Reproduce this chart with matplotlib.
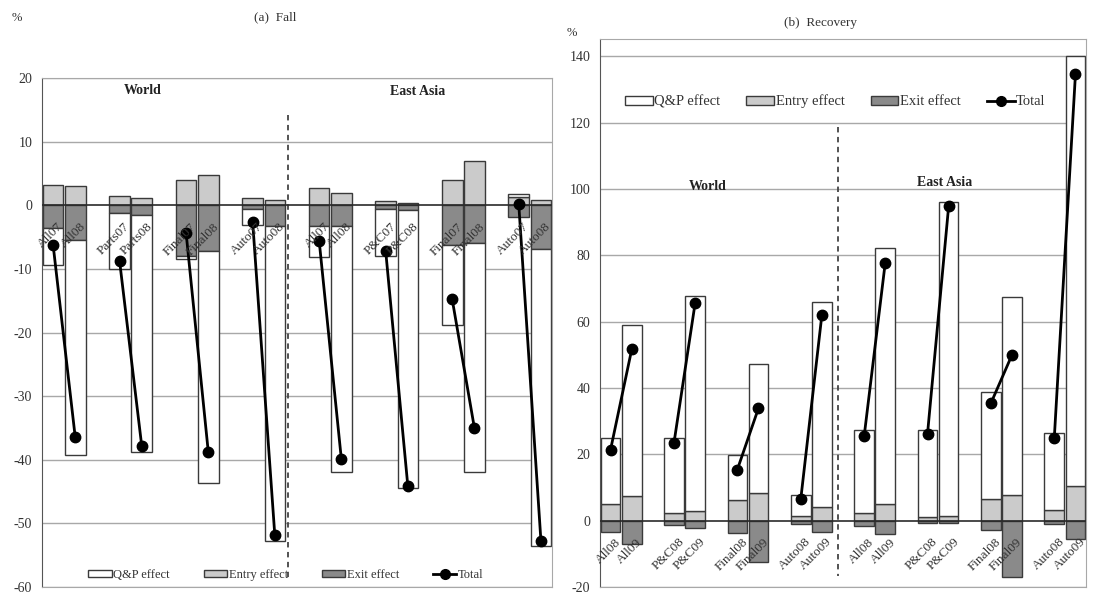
import numpy as np
import matplotlib
matplotlib.use('Agg')
import matplotlib.pyplot as plt
from matplotlib.patches import Patch
from matplotlib.lines import Line2D

plt.rcParams['font.family'] = ['Liberation Serif', 'DejaVu Serif']

# ---------- (a) Fall ----------
fall_labels = ['All07', 'All08', 'Parts07', 'Parts08', 'Final07', 'Final08', 'Auto07', 'Auto08',
               'All07', 'All08', 'P&C07', 'P&C08', 'Final07', 'Final08', 'Auto07', 'Auto08']
fall_qp = [-5.8, -33.9, -8.8, -37.2, -0.5, -36.5, -2.5, -49.5,
           -4.8, -38.7, -7.3, -43.7, -12.5, -36.0, 0.5, -46.7]
fall_entry = [3.2, 3.0, 1.4, 1.1, 4.0, 4.8, 1.1, 0.8,
              2.7, 2.0, 0.7, 0.3, 4.0, 7.0, 1.3, 0.8]
fall_exit = [-3.6, -5.4, -1.2, -1.6, -8.0, -7.2, -0.6, -3.2,
             -3.3, -3.3, -0.6, -0.7, -6.3, -6.0, -1.8, -6.9]
fall_total = [-6.2, -36.5, -8.8, -37.9, -4.4, -38.8, -2.6, -51.9,
              -5.6, -39.9, -7.2, -44.2, -14.8, -35.0, 0.2, -52.7]

# ---------- (b) Recovery ----------
rec_labels = ['All08', 'All09', 'P&C08', 'P&C09', 'Final08', 'Final09', 'Auto08', 'Auto09',
              'All08', 'All09', 'P&C08', 'P&C09', 'Final08', 'Final09', 'Auto08', 'Auto09']
rec_qp = [20.0, 51.6, 22.8, 64.7, 13.7, 38.8, 6.2, 61.7,
          25.2, 77.3, 26.0, 94.5, 32.3, 59.8, 23.3, 129.7]
rec_entry = [5.0, 7.4, 2.2, 3.0, 6.2, 8.4, 1.5, 4.2,
             2.2, 4.9, 1.2, 1.5, 6.4, 7.6, 3.1, 10.5]
rec_exit = [-3.3, -7.1, -1.3, -2.2, -3.8, -12.5, -1.0, -3.5,
            -1.5, -4.0, -0.8, -0.6, -2.8, -17.0, -1.1, -5.5]
rec_total = [21.4, 51.6, 23.4, 65.5, 15.4, 33.9, 6.4, 62.0,
             25.4, 77.8, 26.2, 94.8, 35.4, 50.0, 25.0, 134.5]

legend_names = ['Q&P effect', 'Entry effect', 'Exit effect', 'Total']

c_entry = '#cbcbcb'
c_exit = '#8a8a8a'
c_edge = '#3a3a3a'
c_grid = '#a8a8a8'

# two bars per group, blank slot between groups
pos = np.array([3 * i + j for i in range(8) for j in range(2)])


def draw_panel(ax, labels, qp, entry, ex, total, ylim, yticks, divider, div_y, regions,
               legend_xy, legend_fs, legend_sp):
    qp = np.array(qp)
    entry = np.array(entry)
    ex = np.array(ex)
    w = 0.93
    ax.bar(pos, entry, width=w, color=c_entry, edgecolor=c_edge, lw=1, zorder=2)
    ax.bar(pos, ex, width=w, color=c_exit, edgecolor=c_edge, lw=1, zorder=2)
    qp_bottom = np.where(qp >= 0, np.maximum(entry, 0), np.minimum(ex, 0))
    ax.bar(pos, qp, bottom=qp_bottom, width=w, color='white', edgecolor=c_edge, lw=1, zorder=2)
    for i in range(0, len(pos), 2):
        ax.plot(pos[i:i + 2], total[i:i + 2], '-o', color='black', lw=2, ms=7.5, zorder=5)
    ax.axhline(0, color='#2a2a2a', lw=1.2, zorder=3)

    ax.set_xlim(-0.5, 22.5)
    ax.set_ylim(*ylim)
    ax.set_yticks(yticks)
    ax.set_yticklabels([str(t) for t in yticks])
    ax.set_xticks([])
    ax.tick_params(axis='y', length=0, pad=7, labelsize=10, labelcolor='#333333')
    for t in yticks:
        if t != 0:
            ax.axhline(t, color=c_grid, lw=1, zorder=0)
    for s in ['top', 'right', 'bottom']:
        ax.spines[s].set_color(c_grid)
    ax.spines['left'].set_color('#555555')

    ax.plot([divider, divider], div_y, ls=(0, (3, 2.5)), color='#444444', lw=1.3, zorder=1)

    for x, lab in zip(pos, labels):
        ax.annotate(lab, xy=(x, 0), xytext=(3, -11), textcoords='offset points',
                    rotation=45, rotation_mode='anchor', ha='right', va='top',
                    fontsize=9.5, color='#333333', zorder=6)

    for txt, x, y in regions:
        ax.text(x, y, txt, ha='center', va='center', fontsize=10, fontweight='bold', color='#222222')

    handles = [Patch(facecolor='white', edgecolor=c_edge),
               Patch(facecolor=c_entry, edgecolor=c_edge),
               Patch(facecolor=c_exit, edgecolor=c_edge),
               Line2D([], [], color='black', marker='o', lw=2, ms=7)]
    leg = ax.legend(handles, legend_names, loc='center', bbox_to_anchor=legend_xy, ncol=4,
                    frameon=False, fontsize=legend_fs, handlelength=1.9, handleheight=0.55,
                    handletextpad=0.1, columnspacing=legend_sp)
    for t in leg.get_texts():
        t.set_color('#333333')


fig = plt.figure(figsize=(10.98, 5.94), dpi=100)

ax1 = fig.add_axes([42 / 1098, 7 / 594, 510 / 1098, 509 / 594])
draw_panel(ax1, fall_labels, fall_qp, fall_entry, fall_exit, fall_total,
           (-60, 20), list(range(-60, 21, 10)), 10.6, (14.2, -58.5),
           [('World', 4.06, 18.1), ('East Asia', 16.46, 17.8)], (0.478, 0.024), 9, 2.7)

ax2 = fig.add_axes([600 / 1098, 7 / 594, 486 / 1098, 548 / 594])
draw_panel(ax2, rec_labels, rec_qp, rec_entry, rec_exit, rec_total,
           (-20, 145.2), list(range(-20, 141, 20)), 10.75, (118.8, -16.6),
           [('World', 4.6, 100.7), ('East Asia', 15.83, 101.8)], (0.484, 0.886), 10.5, 1.8)

fig.text(0.2505, 0.971, '(a)  Fall', ha='center', va='center', fontsize=9.5, color='#333333')
fig.text(0.747, 0.961, '(b)  Recovery', ha='center', va='center', fontsize=9.5, color='#333333')
fig.text(0.0155, 0.97, '%', ha='center', va='center', fontsize=9, color='#333333')
fig.text(0.521, 0.944, '%', ha='center', va='center', fontsize=9, color='#333333')

fig.savefig('out.png', dpi=100)
